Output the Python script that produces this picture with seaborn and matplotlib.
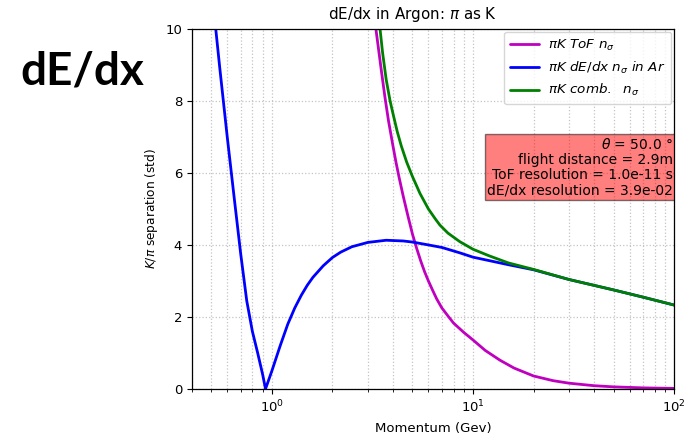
import matplotlib
matplotlib.use("Agg")
import matplotlib.pyplot as plt
import seaborn as sns
import pandas as pd
from matplotlib.ticker import LogLocator, NullFormatter

# ---- data ----
p_dedx = [0.526, 0.55, 0.60, 0.65, 0.70, 0.75, 0.80, 0.85, 0.90, 0.93,
          1.0, 1.1, 1.2, 1.3, 1.4, 1.5, 1.6, 1.8, 2.0, 2.2, 2.5, 3.0, 3.7,
          4.5, 5.0, 6.0, 7.0, 8.6, 10, 15, 20, 30, 50, 70, 100]
n_dedx = [10.0, 8.95, 7.0, 5.3, 3.75, 2.45, 1.6, 1.0, 0.4, 0.0,
          0.5, 1.2, 1.8, 2.25, 2.6, 2.88, 3.1, 3.42, 3.65, 3.8, 3.95, 4.07, 4.13,
          4.11, 4.08, 4.0, 3.93, 3.78, 3.66, 3.45, 3.31, 3.04, 2.75, 2.55, 2.33]

p_tof = [3.29, 3.5, 3.65, 3.8, 4.0, 4.14, 4.3, 4.5, 4.75, 5.0, 5.25, 5.5,
         5.75, 6.0, 6.3, 6.6, 7.0, 7.5, 8.0, 9.0, 10, 11.5, 13.6, 16, 20,
         25, 30, 40, 50, 70, 100]
n_tof = [10.0, 8.85, 8.1, 7.45, 6.75, 6.3, 5.85, 5.35, 4.8, 4.3, 3.9, 3.55,
         3.25, 3.0, 2.74, 2.5, 2.25, 2.03, 1.83, 1.57, 1.36, 1.07, 0.8, 0.58,
         0.36, 0.23, 0.16, 0.09, 0.058, 0.03, 0.015]

p_comb = [3.45, 3.55, 3.7, 3.87, 4.0, 4.2, 4.4, 4.68, 5.0, 5.45, 6.0, 6.5,
          6.85, 7.5, 8.6, 10, 12, 15, 20, 30, 50, 70, 100]
n_comb = [10.0, 9.35, 8.6, 8.0, 7.65, 7.15, 6.75, 6.3, 5.9, 5.43, 5.0, 4.72,
          4.55, 4.33, 4.09, 3.88, 3.7, 3.5, 3.32, 3.04, 2.75, 2.55, 2.33]

labels = [r'$\pi K\ ToF\ n_{\sigma}$',
          r'$\pi K\ dE/dx\ n_{\sigma}\ in\ Ar$',
          r'$\pi K\ comb.\ \ n_{\sigma}$']
colors = ['#bf00bf', '#0000ff', '#008000']

info_lines = [r'$\theta$ = 50.0 °', 'flight distance = 2.9m',
              'ToF resolution = 1.0e-11 s', 'dE/dx resolution = 3.9e-02']

sns.set_style("ticks")
plt.rcParams['font.family'] = ['DejaVu Sans']
plt.rcParams['text.color'] = 'black'
plt.rcParams['axes.labelcolor'] = 'black'
plt.rcParams['xtick.color'] = 'black'
plt.rcParams['ytick.color'] = 'black'

fig = plt.figure(figsize=(6.95, 4.38), dpi=100)
ax = fig.add_axes([0.276, 0.112, 0.694, 0.822])

series = [(p_tof, n_tof), (p_dedx, n_dedx), (p_comb, n_comb)]
for (px, ny), lab, c in zip(series, labels, colors):
    df = pd.DataFrame({'p': px, 'n': ny})
    sns.lineplot(data=df, x='p', y='n', ax=ax, color=c, lw=2, label=lab,
                 sort=False, estimator=None)

ax.set_xscale('log')
ax.set_xlim(0.4, 100)
ax.set_ylim(0, 10)
ax.set_yticks([0, 2, 4, 6, 8, 10])
ax.xaxis.set_minor_locator(LogLocator(base=10, subs=range(2, 10)))
ax.xaxis.set_minor_formatter(NullFormatter())
ax.grid(True, which='major', linestyle=':', color='#c4c4c4', lw=0.9)
ax.grid(True, which='minor', axis='x', linestyle=':', color='#c4c4c4', lw=0.9)
for s in ax.spines.values():
    s.set_color('black')
    s.set_linewidth(0.9)
ax.tick_params(axis='both', which='major', labelsize=9.5, length=3.5, width=0.8,
               direction='out', color='black')
ax.tick_params(axis='x', which='minor', length=2, width=0.6, color='black')

ax.set_xlabel('Momentum (Gev)', fontsize=9.5, labelpad=5)
ax.set_ylabel(r'$K/\pi$ separation (std)', fontsize=8.7)
ax.set_title(r'dE/dx in Argon: $\pi$ as K', fontsize=10.9, x=0.458, pad=7)

leg = ax.legend(loc='upper right', fontsize=9.7, frameon=True, framealpha=0.8,
                edgecolor='#cccccc', handlelength=2.1, borderpad=0.45,
                labelspacing=0.5, handletextpad=0.7, borderaxespad=0.2)

ax.text(0.998, 0.6167, "\n".join(info_lines), transform=ax.transAxes,
        ha='right', va='center', fontsize=10, linespacing=1.1,
        bbox=dict(boxstyle='square,pad=0.2', facecolor='#ff0000',
                  alpha=0.5, edgecolor='black'), clip_on=True)

fig.text(0.03, 0.806, 'dE/dx', fontsize=33, fontweight='bold',
         family=['Lato', 'DejaVu Sans'], ha='left', va='baseline',
         color='black')

fig.savefig('out.png', dpi=100)
